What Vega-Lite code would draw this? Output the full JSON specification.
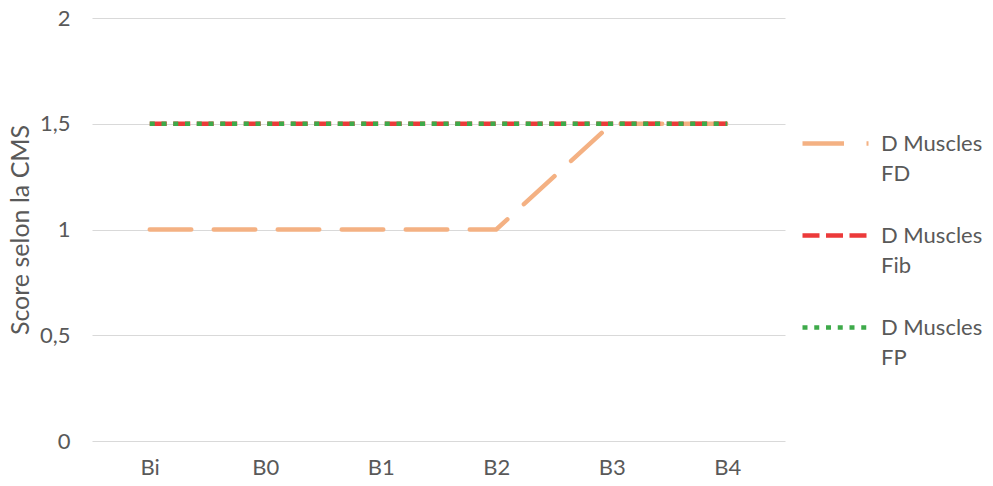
{
  "$schema": "https://vega.github.io/schema/vega-lite/v6.json",
  "width": 693,
  "height": 423,
  "autosize": "none",
  "padding": {"left": 92, "top": 18, "right": 208, "bottom": 45},
  "background": "white",
  "data": {
    "values": [
      {"session": "Bi", "serie": "D Muscles FD", "score": 1},
      {"session": "B0", "serie": "D Muscles FD", "score": 1},
      {"session": "B1", "serie": "D Muscles FD", "score": 1},
      {"session": "B2", "serie": "D Muscles FD", "score": 1},
      {"session": "B3", "serie": "D Muscles FD", "score": 1.5},
      {"session": "B4", "serie": "D Muscles FD", "score": 1.5},
      {"session": "Bi", "serie": "D Muscles Fib", "score": 1.5},
      {"session": "B0", "serie": "D Muscles Fib", "score": 1.5},
      {"session": "B1", "serie": "D Muscles Fib", "score": 1.5},
      {"session": "B2", "serie": "D Muscles Fib", "score": 1.5},
      {"session": "B3", "serie": "D Muscles Fib", "score": 1.5},
      {"session": "B4", "serie": "D Muscles Fib", "score": 1.5},
      {"session": "Bi", "serie": "D Muscles FP", "score": 1.5},
      {"session": "B0", "serie": "D Muscles FP", "score": 1.5},
      {"session": "B1", "serie": "D Muscles FP", "score": 1.5},
      {"session": "B2", "serie": "D Muscles FP", "score": 1.5},
      {"session": "B3", "serie": "D Muscles FP", "score": 1.5},
      {"session": "B4", "serie": "D Muscles FP", "score": 1.5}
    ]
  },
  "encoding": {
    "x": {
      "field": "session",
      "type": "ordinal",
      "sort": ["Bi", "B0", "B1", "B2", "B3", "B4"],
      "scale": {"type": "point", "padding": 0.5},
      "axis": {
        "title": null,
        "labelAngle": 0,
        "ticks": false,
        "domain": false,
        "grid": false,
        "labelPadding": 16,
        "labelFontSize": 22
      }
    },
    "y": {
      "field": "score",
      "type": "quantitative",
      "scale": {"domain": [0, 2], "nice": false},
      "axis": {
        "title": "Score selon la CMS",
        "values": [0, 0.5, 1, 1.5, 2],
        "labelExpr": "replace(format(datum.value, '~g'), '.', ',')",
        "ticks": false,
        "domain": false,
        "labelPadding": 22,
        "titlePadding": 6,
        "labelFontSize": 22,
        "titleFontSize": 25,
        "titleFontWeight": "normal"
      }
    },
    "color": {
      "field": "serie",
      "type": "nominal",
      "scale": {
        "domain": ["D Muscles FD", "D Muscles Fib", "D Muscles FP"],
        "range": ["#F4B183", "#EC3A3A", "#3EAA4A"]
      },
      "legend": {
        "title": null,
        "orient": "none",
        "legendX": 708,
        "legendY": 90,
        "symbolType": "stroke",
        "symbolSize": 4356,
        "symbolStrokeWidth": 4.5,
        "labelFontSize": 22,
        "labelOffset": 10,
        "rowPadding": 15,
        "labelExpr": "['D Muscles', slice(datum.label, 10)]"
      }
    },
    "strokeDash": {
      "field": "serie",
      "type": "nominal",
      "scale": {
        "domain": ["D Muscles FD", "D Muscles Fib", "D Muscles FP"],
        "range": [[41.5, 22.5], [17, 6.5], [5, 6.75]]
      },
      "legend": null
    }
  },
  "layer": [
    {
      "transform": [{"filter": "datum.serie === 'D Muscles FD'"}],
      "mark": {"type": "line", "strokeWidth": 4.5, "strokeCap": "round"}
    },
    {
      "transform": [{"filter": "datum.serie === 'D Muscles Fib'"}],
      "mark": {"type": "line", "strokeWidth": 4.5, "strokeCap": "butt"}
    },
    {
      "transform": [{"filter": "datum.serie === 'D Muscles FP'"}],
      "mark": {"type": "line", "strokeWidth": 4.5, "strokeCap": "butt"}
    }
  ],
  "config": {
    "view": {"stroke": null},
    "font": "Lato",
    "axis": {
      "gridColor": "#D9D9D9",
      "gridWidth": 1.2,
      "labelColor": "#595959",
      "titleColor": "#595959",
      "labelFont": "Lato",
      "titleFont": "Lato"
    },
    "legend": {"labelColor": "#595959", "labelFont": "Lato"},
    "style": {"guide-label": {"lineHeight": 30}}
  }
}
